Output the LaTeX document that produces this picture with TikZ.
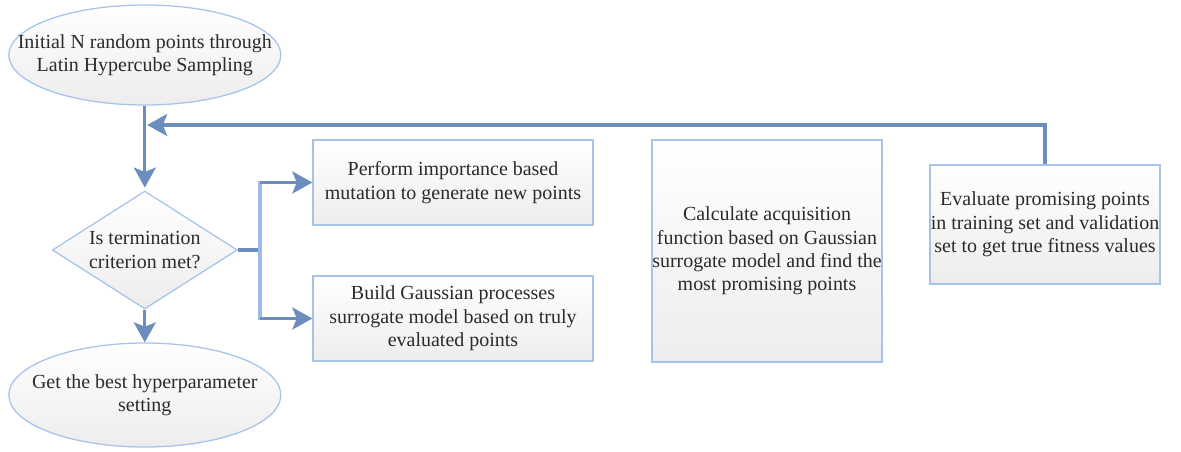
\documentclass[tikz,border=0pt]{standalone}
\usepackage{fontspec}
\setmainfont{Liberation Serif}
\usepackage{xcolor}
\usetikzlibrary{positioning,arrows.meta,shapes.geometric}
\definecolor{flowline}{HTML}{6C8EBF}
\definecolor{flowpale}{HTML}{9CBCE6}
\definecolor{flowedge}{HTML}{A6C4E8}
\definecolor{flowfill}{HTML}{EDEDED}
\definecolor{flowtext}{HTML}{2B2B2B}
\tikzset{
  shapebase/.style ={draw=flowedge, line width=0.9pt, top color=white,
                     bottom color=flowfill, align=center, text=flowtext,
                     font=\fontsize{14.2}{16.6}\selectfont},
  terminal/.style  ={shapebase, ellipse, inner xsep=-1.2cm, inner ysep=0pt,
                     minimum width=6.8cm, minimum height=2.5cm},
  decide/.style    ={shapebase, diamond, inner sep=-0.4cm,
                     minimum width=4.625cm, minimum height=2.95cm},
  stepbox/.style   ={shapebase, rectangle, inner sep=0pt,
                     minimum width=7cm, minimum height=2.125cm},
  flowlink/.style  ={draw=flowline, line width=2.35pt},
  flowarrow/.style ={flowlink, -{Stealth[length=5mm, width=5.5mm, inset=1.1mm]}},
}

\begin{document}
\begin{tikzpicture}
  \useasboundingbox (0,0) rectangle (29.525,11.275);

  % main column
  \node[terminal] (start) at (3.62,9.9)
    {Initial N random points through\\Latin Hypercube Sampling};
  \node[decide] (check) at (3.62,5.025) {Is termination\\criterion met?};
  \node[terminal, minimum height=2.6cm] (best) at (3.62,1.4)
    {Get the best hyperparameter\\setting};

  % loop body
  \node[stepbox] (mutate) at (11.325,6.7125)
    {Perform importance based\\mutation to generate new points};
  \node[stepbox] (surrogate) at (11.325,3.3125)
    {Build Gaussian processes\\surrogate model based on truly\\evaluated points};
  \node[stepbox, minimum width=5.75cm, minimum height=5.55cm] (acquire) at (19.175,5.0)
    {Calculate acquisition\\function based on Gaussian\\surrogate model and find the\\most promising points};
  \node[stepbox, minimum width=5.75cm, minimum height=2.975cm] (evaluate) at (26.125,5.6625)
    {Evaluate promising points\\in training set and validation\\set to get true fitness values};

  % connectors
  \coordinate (fork) at (6.5,5.025);
  \coordinate (forkup) at (fork |- mutate);
  \coordinate (forkdown) at (fork |- surrogate);
  \coordinate (back) at (3.68,8.15);
  \draw[flowarrow] (start) -- ([yshift=2pt]check.north);
  \draw[flowarrow] (check) -- (best);
  \draw[flowlink] (check.east) -- (fork);
  \draw[flowlink, draw=flowpale, line cap=rect] (forkup) -- (forkdown);
  \draw[flowarrow] (forkup) -- (mutate);
  \draw[flowarrow] (forkdown) -- (surrogate);
  \draw[flowarrow] (evaluate.north) |- (back);
\end{tikzpicture}
\end{document}
